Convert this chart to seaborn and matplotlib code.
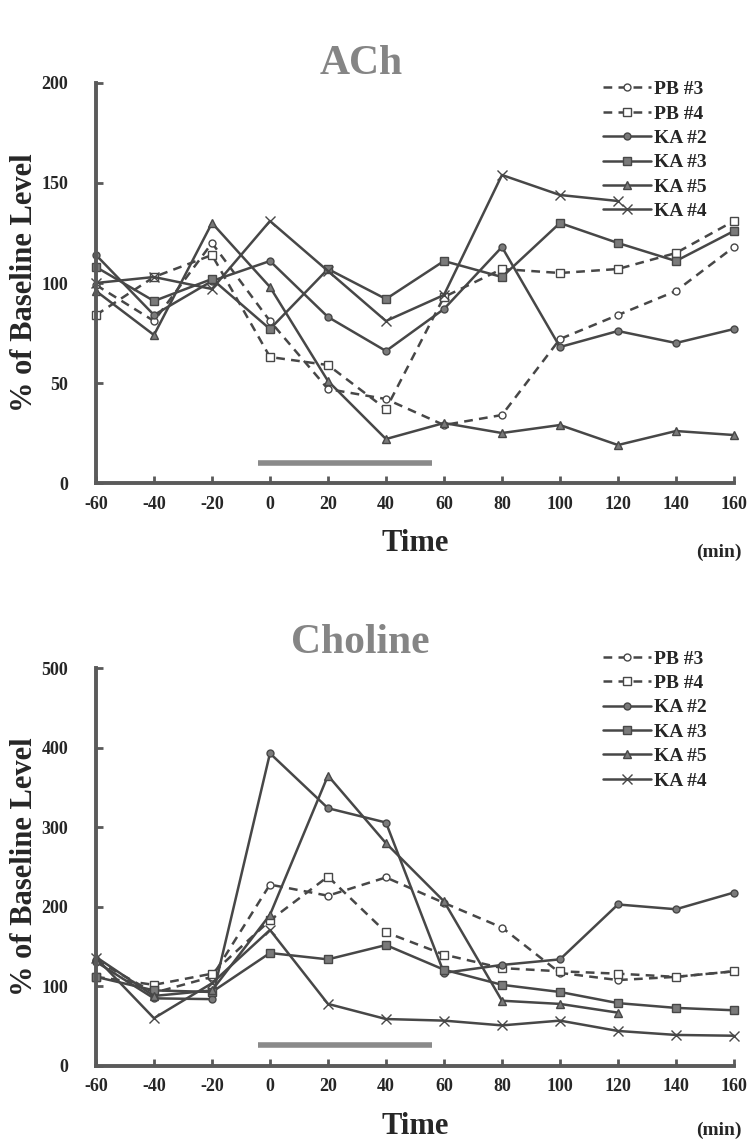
import matplotlib
matplotlib.use("Agg")
import matplotlib.pyplot as plt
import seaborn as sns
import pandas as pd

sns.set_style("ticks")
plt.rcParams["font.family"] = ["Liberation Serif", "DejaVu Serif"]
plt.rcParams["font.weight"] = "bold"
plt.rcParams["axes.unicode_minus"] = False

time = [-60, -40, -20, 0, 20, 40, 60, 80, 100, 120, 140, 160]
series_names = ["PB #3", "PB #4", "KA #2", "KA #3", "KA #5", "KA #4"]

# ACh (% of baseline)
ach_pb3 = [99, 81, 120, 81, 47, 42, 29, 34, 72, 84, 96, 118]
ach_pb4 = [84, 103, 114, 63, 59, 37, 93, 107, 105, 107, 115, 131]
ach_ka2 = [114, 84, 101, 111, 83, 66, 87, 118, 68, 76, 70, 77]
ach_ka3 = [108, 91, 102, 77, 107, 92, 111, 103, 130, 120, 111, 126]
ach_ka5 = [96, 74, 130, 98, 51, 22, 30, 25, 29, 19, 26, 24]
ach_ka4 = [100, 103, 97, 131, 106, 81, 94, 154, 144, 141]

# Choline (% of baseline)
cho_pb3 = [133, 92, 112, 228, 214, 237, 205, 174, 117, 108, 112, 119]
cho_pb4 = [112, 102, 116, 183, 238, 168, 140, 123, 119, 116, 112, 119]
cho_ka2 = [131, 85, 84, 393, 324, 306, 117, 127, 134, 203, 197, 218]
cho_ka3 = [112, 95, 93, 142, 134, 152, 121, 102, 93, 79, 73, 70]
cho_ka5 = [137, 88, 95, 190, 365, 280, 207, 82, 78, 67]
cho_ka4 = [136, 60, 104, 171, 78, 59, 57, 51, 57, 44, 39, 38]

# treatment period bar
treat_start, treat_end = -4, 56
ach_bar_level = 10
cho_bar_level = 26

line_col = "#474747"
fill_col = "#7a7a7a"
dash = (0, (3.5, 2.5))
styles = {
    "PB #3": dict(marker="o", markerfacecolor="white", markersize=5, linestyle=dash),
    "PB #4": dict(marker="s", markerfacecolor="white", markersize=6, linestyle=dash),
    "KA #2": dict(marker="o", markerfacecolor=fill_col, markersize=5, linestyle="-"),
    "KA #3": dict(marker="s", markerfacecolor=fill_col, markersize=5.5, linestyle="-"),
    "KA #5": dict(marker="^", markerfacecolor=fill_col, markersize=6, linestyle="-"),
    "KA #4": dict(marker="x", markerfacecolor=fill_col, markersize=7, linestyle="-"),
}


def draw_panel(ax, values, title, ymax, ystep, bar_level, leg_y, title_pad):
    for name, vals in zip(series_names, values):
        df = pd.DataFrame({"time": time[:len(vals)], "value": vals})
        sns.lineplot(data=df, x="time", y="value", ax=ax, color=line_col,
                     linewidth=1.8, markeredgecolor=line_col, markeredgewidth=1.0,
                     label=name, clip_on=False, **styles[name])
    ax.hlines(bar_level, treat_start, treat_end, color="#8a8a8a", linewidth=4)
    ax.set_xlim(-60, 160)
    ax.set_ylim(0, ymax)
    ax.set_xticks(range(-60, 161, 20))
    ax.set_yticks(range(0, ymax + 1, ystep))
    sns.despine(ax=ax)
    for s in ["left", "bottom"]:
        ax.spines[s].set_linewidth(2.8)
        ax.spines[s].set_color("#5a5a5a")
    ax.tick_params(direction="in", length=5, width=2, color="#5a5a5a",
                   labelsize=13)
    ax.tick_params(axis="y", pad=20)
    ax.tick_params(axis="x", pad=9)
    for lab in ax.get_xticklabels() + ax.get_yticklabels():
        lab.set_fontweight("bold")
    ax.set_xlabel("Time", fontsize=22, fontweight="bold", labelpad=12)
    ax.set_ylabel("% of Baseline Level", fontsize=22, fontweight="bold", labelpad=2)
    ax.set_title(title, fontsize=30, fontweight="bold", color="#858585", pad=title_pad, x=0.415)
    ax.legend(loc="upper right", bbox_to_anchor=(0.985, leg_y), frameon=False,
              handlelength=2.5, handletextpad=0.15, labelspacing=0.35,
              prop={"size": 14, "weight": "bold"})


fig = plt.figure(figsize=(7.47, 11.43), dpi=100)
ax1 = fig.add_axes([0.1285, 0.5774, 0.854, 0.35])
ax2 = fig.add_axes([0.1285, 0.0674, 0.854, 0.348])

draw_panel(ax1, [ach_pb3, ach_pb4, ach_ka2, ach_ka3, ach_ka5, ach_ka4], "ACh", 200, 50, ach_bar_level, 1.05, 5)
draw_panel(ax2, [cho_pb3, cho_pb4, cho_ka2, cho_ka3, cho_ka5, cho_ka4], "Choline", 500, 100, cho_bar_level, 1.09, 11)

fig.text(0.962, 1 - 552 / 1143, "(min)", ha="center", va="center", fontsize=14, fontweight="bold")
fig.text(0.962, 1 - 1130 / 1143, "(min)", ha="center", va="center", fontsize=14, fontweight="bold")

fig.savefig("out.png", dpi=100)
